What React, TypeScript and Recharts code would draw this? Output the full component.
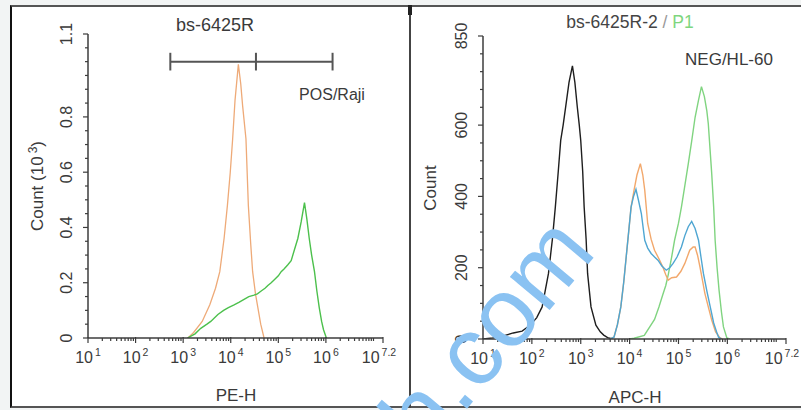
import React from 'react';
import { LineChart, Line, XAxis, YAxis, ReferenceLine } from 'recharts';

// ---------------- data ----------------
// x values are log10 of fluorescence intensity
const xTickExps = [1, 2, 3, 4, 5, 6, 7.2];
const xDomain: [number, number] = [1, 7.2];

const leftYTicks = [0, 0.2, 0.4, 0.6, 0.8, 1.1];
const leftYLabels = ['0', '0.2', '0.4', '0.6', '0.8', '1.1'];
const leftYDomain: [number, number] = [0, 1.1];

const rightYTicks = [0, 200, 400, 600, 850];
const rightYLabels = ['0', '200', '400', '600', '850'];
const rightYDomain: [number, number] = [0, 850];

// gate bar in left panel (log10 positions), at count level 1.0 (x10^3)
const gateEdges = [2.73, 4.53, 6.14];
const gateLevel = 1.0;

// Left panel: bs-6425R, POS/Raji (count x10^3)
const leftIsotype: [number, number][] = [
  [3.1, 0], [3.22, 0.02], [3.4, 0.06], [3.56, 0.12], [3.68, 0.18], [3.77, 0.24],
  [3.86, 0.36], [3.93, 0.48], [3.99, 0.6], [4.04, 0.72], [4.09, 0.86], [4.16, 0.99],
  [4.21, 0.92], [4.25, 0.84], [4.32, 0.72], [4.37, 0.48], [4.42, 0.34], [4.46, 0.24],
  [4.52, 0.16], [4.57, 0.11], [4.63, 0.05], [4.7, 0],
];
const leftAntibody: [number, number][] = [
  [3.09, 0], [3.25, 0.015], [3.37, 0.035], [3.5, 0.05], [3.58, 0.06], [3.73, 0.085],
  [3.85, 0.1], [3.95, 0.11], [4.07, 0.12], [4.18, 0.13], [4.28, 0.14], [4.38, 0.15],
  [4.49, 0.155], [4.56, 0.16], [4.64, 0.17], [4.72, 0.18], [4.78, 0.19], [4.85, 0.2],
  [4.91, 0.21], [5.0, 0.225], [5.06, 0.24], [5.12, 0.25], [5.2, 0.265], [5.27, 0.28],
  [5.34, 0.32], [5.41, 0.36], [5.48, 0.42], [5.55, 0.49], [5.6, 0.43], [5.65, 0.36],
  [5.7, 0.3], [5.76, 0.24], [5.81, 0.17], [5.86, 0.11], [5.91, 0.06], [5.95, 0.03], [6.01, 0],
];

// Right panel: bs-6425R-2 / P1, NEG/HL-60 (count)
const rightBlank: [number, number][] = [
  [1.0, 0], [1.2, 3], [1.4, 8], [1.62, 17], [1.8, 22], [1.97, 39], [2.1, 60], [2.21, 90],
  [2.34, 184], [2.42, 280], [2.48, 370], [2.54, 470], [2.59, 557], [2.64, 600], [2.69, 650],
  [2.76, 720], [2.83, 766], [2.88, 720], [2.93, 650], [2.97, 600], [3.0, 557], [3.04, 470],
  [3.07, 370], [3.11, 280], [3.14, 184], [3.21, 90], [3.31, 39], [3.4, 20], [3.47, 11],
  [3.55, 4], [3.65, 0],
];
const rightIsotype: [number, number][] = [
  [3.6, 0], [3.68, 5], [3.75, 40], [3.82, 90], [3.88, 160], [3.93, 230], [3.98, 300],
  [4.03, 370], [4.09, 417], [4.15, 460], [4.22, 492], [4.27, 460], [4.31, 417], [4.37, 324],
  [4.44, 280], [4.51, 249], [4.6, 225], [4.68, 202], [4.74, 180], [4.79, 165], [4.86, 172],
  [4.96, 174], [5.05, 190], [5.13, 212], [5.23, 249], [5.3, 258], [5.34, 258], [5.39, 235],
  [5.44, 202], [5.49, 165], [5.54, 128], [5.61, 90], [5.68, 53], [5.76, 20], [5.85, 3], [5.9, 0],
];
const rightAntibody: [number, number][] = [
  [3.6, 0], [3.68, 5], [3.75, 40], [3.82, 90], [3.88, 160], [3.93, 230], [3.98, 300],
  [4.03, 370], [4.08, 400], [4.13, 420], [4.18, 390], [4.24, 352], [4.31, 277], [4.37, 255],
  [4.44, 240], [4.51, 230], [4.58, 221], [4.66, 205], [4.75, 193], [4.82, 200], [4.89, 212],
  [4.97, 230], [5.06, 258], [5.13, 290], [5.2, 315], [5.27, 330], [5.34, 310], [5.41, 277],
  [5.46, 230], [5.51, 184], [5.58, 135], [5.65, 90], [5.72, 45], [5.78, 20], [5.82, 5], [5.88, 0],
];
const rightPositive: [number, number][] = [
  [4.0, 0], [4.09, 2], [4.3, 10], [4.51, 55], [4.6, 90], [4.68, 125], [4.74, 150],
  [4.79, 180], [4.86, 230], [4.92, 277], [5.0, 325], [5.06, 370], [5.13, 430], [5.2, 491],
  [5.27, 555], [5.34, 622], [5.41, 670], [5.47, 708], [5.53, 680], [5.58, 640], [5.61, 604],
  [5.68, 464], [5.72, 370], [5.75, 277], [5.79, 200], [5.83, 137], [5.88, 75], [5.92, 34],
  [5.99, 3], [6.05, 0],
];

// ---------------- helpers ----------------
const toRows = (pts: [number, number][]) => pts.map(([x, y]) => ({ x, y }));

const FONT = '"Liberation Sans", Arial, Helvetica, sans-serif';
const AXIS = '#3c3c3c';
const TEXT = '#3a3a3a';

const xMinorTicks: number[] = [];
for (let n = 1; n <= 7; n++) {
  for (let k = 1; k <= 9; k++) {
    const v = n + Math.log10(k);
    if (v <= 7.2 + 1e-9) xMinorTicks.push(Math.round(v * 10000) / 10000);
  }
}
const xAllTicks = Array.from(new Set([...xMinorTicks, ...xTickExps])).sort((a, b) => a - b);

const stepTicks = (max: number, step: number) => {
  const out: number[] = [];
  for (let i = 0; i * step <= max + 1e-9; i++) out.push(Math.round(i * step * 1000) / 1000);
  return out;
};
const leftYAll = Array.from(new Set([...stepTicks(1.1, 0.05), ...leftYTicks])).sort((a, b) => a - b);
const rightYAll = Array.from(new Set([...stepTicks(850, 50), ...rightYTicks])).sort((a, b) => a - b);

const isIn = (arr: number[], v: number) => arr.findIndex((m) => Math.abs(m - v) < 1e-6);

const XTick = (props: any) => {
  const { x, y, payload } = props;
  const v = payload.value as number;
  const major = isIn(xTickExps, v) >= 0;
  const last = Math.abs(v - xDomain[1]) < 1e-6;
  return (
    <g>
      <line x1={x} x2={x} y1={y - (major ? 1 : 0)} y2={y + (major ? 5 : 3)} stroke={AXIS} strokeWidth={1.2} />
      {major && (
        <text x={last ? x - 4 : x} y={y + 25} textAnchor="middle" fontSize={16} fill={TEXT} fontFamily={FONT}>
          10
          <tspan dx={2} dy={-7} fontSize={10.5}>{String(v)}</tspan>
        </text>
      )}
    </g>
  );
};

const makeYTick = (majors: number[], labels: string[]) => (props: any) => {
  const { x, y, payload } = props;
  const v = payload.value as number;
  const idx = isIn(majors, v);
  const major = idx >= 0;
  const tx = x - 16;
  return (
    <g>
      <line x1={x - (major ? 5 : 3)} x2={x} y1={y} y2={y} stroke={AXIS} strokeWidth={1.2} />
      {major && (
        <text
          x={tx}
          y={y}
          transform={`rotate(-90 ${tx} ${y})`}
          textAnchor="middle"
          fontSize={16}
          fill={TEXT}
          fontFamily={FONT}
        >
          {labels[idx]}
        </text>
      )}
    </g>
  );
};

const LeftYTick = makeYTick(leftYTicks, leftYLabels);
const RightYTick = makeYTick(rightYTicks, rightYLabels);

const axisStroke = { stroke: AXIS, strokeWidth: 1.5 };

export default function App() {
  return (
    <div
      style={{
        position: 'absolute',
        left: 0,
        top: 0,
        width: 801,
        height: 410,
        background: '#f2f4f4',
        overflow: 'hidden',
        fontFamily: FONT,
      }}
    >
      {/* white frame */}
      <div
        style={{
          position: 'absolute',
          left: 10,
          top: 5,
          width: 791,
          height: 403,
          background: '#ffffff',
          borderTop: '2px solid #555',
          borderLeft: '2px solid #111',
          borderBottom: '2px solid #555',
          boxSizing: 'border-box',
        }}
      />
      <div style={{ position: 'absolute', left: 409, top: 5, width: 2, height: 403, background: '#444' }} />
      <div style={{ position: 'absolute', left: 408, top: 5, width: 4, height: 10, background: '#222' }} />

      {/* Left chart */}
      <div style={{ position: 'absolute', left: 0, top: 0 }}>
        <LineChart width={400} height={410} margin={{ top: 34, right: 17, bottom: 32, left: 48 }}>
          <XAxis
            dataKey="x"
            type="number"
            domain={xDomain}
            ticks={xAllTicks}
            interval={0}
            allowDataOverflow
            tickSize={0}
            tickMargin={0}
            tickLine={false}
            tick={<XTick />}
            axisLine={axisStroke}
            height={40}
          />
          <XAxis xAxisId="top" orientation="top" type="number" domain={xDomain} tick={false} tickLine={false} axisLine={axisStroke} height={0} />
          <YAxis
            type="number"
            domain={leftYDomain}
            ticks={leftYAll}
            interval={0}
            allowDataOverflow
            tickSize={0}
            tickMargin={0}
            tickLine={false}
            tick={<LeftYTick />}
            axisLine={axisStroke}
            width={40}
          />
          <YAxis yAxisId="right" orientation="right" type="number" domain={leftYDomain} tick={false} tickLine={false} axisLine={axisStroke} width={0} />
          <ReferenceLine segment={[{ x: gateEdges[0], y: gateLevel }, { x: gateEdges[2], y: gateLevel }]} stroke="#555" strokeWidth={2} />
          {gateEdges.map((g) => (
            <ReferenceLine
              key={g}
              segment={[{ x: g, y: gateLevel - 0.032 }, { x: g, y: gateLevel + 0.032 }]}
              stroke="#555"
              strokeWidth={2}
            />
          ))}
          <Line data={toRows(leftIsotype)} dataKey="y" type="linear" stroke="#eeaa78" strokeWidth={1.3} dot={false} isAnimationActive={false} />
          <Line data={toRows(leftAntibody)} dataKey="y" type="linear" stroke="#4cc04c" strokeWidth={1.4} dot={false} isAnimationActive={false} />
        </LineChart>
      </div>

      {/* Right chart */}
      <div style={{ position: 'absolute', left: 400, top: 0 }}>
        <LineChart width={401} height={410} margin={{ top: 36, right: 15, bottom: 31, left: 43 }}>
          <XAxis
            dataKey="x"
            type="number"
            domain={xDomain}
            ticks={xAllTicks}
            interval={0}
            allowDataOverflow
            tickSize={0}
            tickMargin={0}
            tickLine={false}
            tick={<XTick />}
            axisLine={axisStroke}
            height={40}
          />
          <XAxis xAxisId="top" orientation="top" type="number" domain={xDomain} tick={false} tickLine={false} axisLine={axisStroke} height={0} />
          <YAxis
            type="number"
            domain={rightYDomain}
            ticks={rightYAll}
            interval={0}
            allowDataOverflow
            tickSize={0}
            tickMargin={0}
            tickLine={false}
            tick={<RightYTick />}
            axisLine={axisStroke}
            width={40}
          />
          <YAxis yAxisId="right" orientation="right" type="number" domain={rightYDomain} tick={false} tickLine={false} axisLine={axisStroke} width={0} />
          <Line data={toRows(rightBlank)} dataKey="y" type="linear" stroke="#1e1e1e" strokeWidth={1.4} dot={false} isAnimationActive={false} />
          <Line data={toRows(rightPositive)} dataKey="y" type="linear" stroke="#80d480" strokeWidth={1.4} dot={false} isAnimationActive={false} />
          <Line data={toRows(rightIsotype)} dataKey="y" type="linear" stroke="#f2a86c" strokeWidth={1.4} dot={false} isAnimationActive={false} />
          <Line data={toRows(rightAntibody)} dataKey="y" type="linear" stroke="#4fa6d2" strokeWidth={1.4} dot={false} isAnimationActive={false} />
        </LineChart>
      </div>

      {/* annotations */}
      <svg width={801} height={410} style={{ position: 'absolute', left: 0, top: 0, pointerEvents: 'none' }}>
        <g fontFamily={FONT} fill={TEXT}>
          <text x={215} y={31} textAnchor="middle" fontSize={18}>bs-6425R</text>
          <text x={332} y={100} textAnchor="middle" fontSize={16}>POS/Raji</text>
          <text x={236} y={401} textAnchor="middle" fontSize={17}>PE-H</text>
          <text x={43} y={186} transform="rotate(-90 43 186)" textAnchor="middle" fontSize={17}>
            Count (10<tspan dx={3} dy={-6} fontSize={12}>3</tspan><tspan dy={6}>)</tspan>
          </text>

          <text x={630} y={28} textAnchor="middle" fontSize={17.5}>
            <tspan fill="#444">bs-6425R-2</tspan>
            <tspan fill="#999"> / </tspan>
            <tspan fill="#7ed67e">P1</tspan>
          </text>
          <text x={729} y={65} textAnchor="middle" fontSize={17}>NEG/HL-60</text>
          <text x={635} y={403} textAnchor="middle" fontSize={17}>APC-H</text>
          <text x={436} y={188} transform="rotate(-90 436 188)" textAnchor="middle" fontSize={17}>Count</text>
        </g>
        <text
          x={512}
          y={355}
          transform="rotate(-50 512 355)"
          textAnchor="middle"
          fontSize={98}
          fontFamily={FONT}
          fill="#8ac2f2"
        >
          h.com
        </text>
      </svg>
    </div>
  );
}
